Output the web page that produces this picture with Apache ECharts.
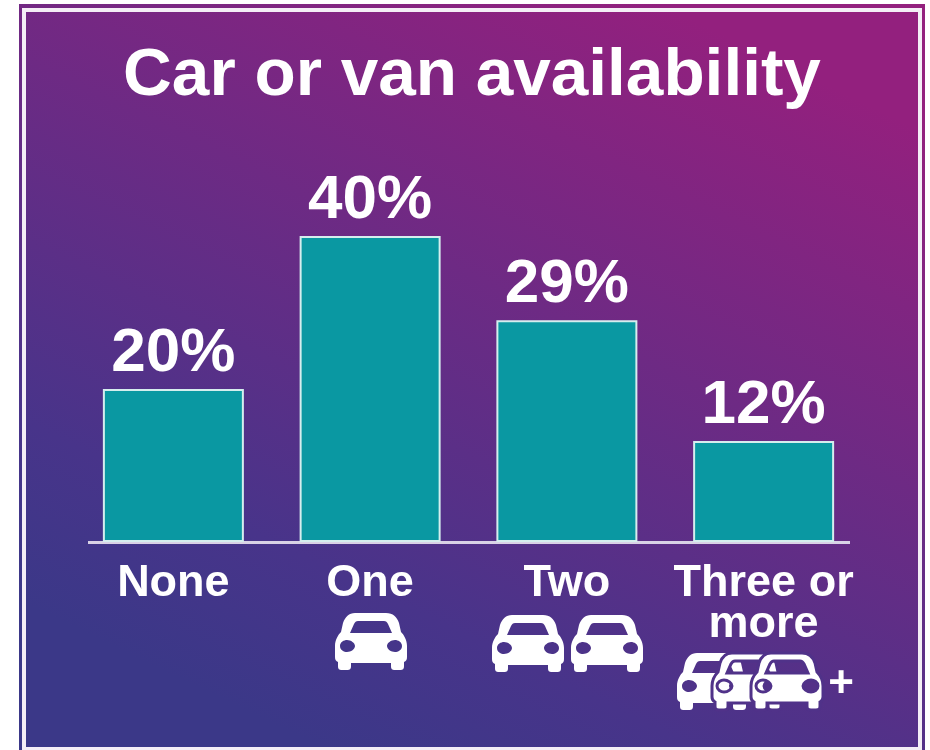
<!DOCTYPE html>
<html>
<head>
<meta charset="utf-8">
<style>
  html, body { margin: 0; padding: 0; background: #fff; }
  #chart { width: 930px; height: 750px; }
</style>
<script src="https://cdn.jsdelivr.net/npm/echarts@6/dist/echarts.min.js"></script>
</head>
<body>
<div id="chart"></div>
<script>
var titleText = 'Car or van availability'
var categories = ['None', 'One', 'Two', 'Three or\nmore']
// bar heights as drawn in the picture (last bar is drawn taller than its 12% label)
var barValues = [20, 40, 29, 13.2]
var barLabels = ['20%', '40%', '29%', '12%']

var FONT = '"Liberation Sans", Arial, sans-serif'
var CAR = 'M20 0 L51 0 C58 0 62 4 64 10 L66 19 C69 22 72 27 72 33 L72 44 C72 47 71 48 69 49 L69 53 C69 56 68 57 65 57 L60 57 C57 57 56 56 56 53 L56 50 L16 50 L16 53 C16 56 15 57 12 57 L7 57 C4 57 3 56 3 53 L3 49 C1 48 0 47 0 44 L0 33 C0 27 3 22 6 19 L8 10 C10 4 14 0 20 0 Z' +
  ' M23 8 C21 8 20 9 19 11 L15 20 L57 20 L53 11 C52 9 51 8 49 8 Z' +
  ' M5 33 C5 37 9 39 12 39 C16 39 20 36 20 33 C20 30 16 27 12 27 C9 27 5 29 5 33 Z' +
  ' M52 33 C52 36 56 39 60 39 C63 39 67 37 67 33 C67 29 63 27 60 27 C56 27 52 30 52 33 Z'

echarts.graphic.registerShape('carIcon', echarts.graphic.extendPath(CAR, {}))

function bg() {
  return new echarts.graphic.LinearGradient(0.33, 1, 0.73, 0, [
    { offset: 0, color: '#3b3888' },
    { offset: 0.2, color: '#48348a' },
    { offset: 1, color: '#93207e' }
  ])
}

function car(x, y, outlined) {
  return {
    type: 'carIcon',
    x: x,
    y: y,
    style: { fill: '#fff', stroke: outlined ? '#503289' : null, lineWidth: outlined ? 3 : 0 }
  }
}

var chart = echarts.init(document.getElementById('chart'))
chart.setOption({
  animation: false,
  backgroundColor: '#fff',
  title: {
    text: titleText,
    left: 467,
    top: 37,
    textAlign: 'center',
    textStyle: { color: '#fff', fontFamily: FONT, fontWeight: 'bold', fontSize: 67.5 }
  },
  graphic: [
    { type: 'rect', shape: { x: 19, y: 4, width: 906, height: 746 }, style: { fill: bg() } },
    { type: 'rect', shape: { x: 22, y: 8, width: 900, height: 742 }, style: { fill: '#f4eef6' } },
    { type: 'rect', shape: { x: 26, y: 12, width: 892, height: 735 }, style: { fill: bg() } },
    { type: 'rect', shape: { x: 88, y: 541, width: 762, height: 3 }, style: { fill: '#d9d2e6' } },
    car(335, 613), car(492, 615), car(571, 615),
    car(677, 653), car(712, 653, true), car(751, 653, true),
    {
      type: 'text',
      style: { x: 841, y: 685, text: '+', align: 'center', verticalAlign: 'middle', fill: '#fff', font: 'bold 44px ' + FONT }
    }
  ],
  grid: { left: 75, right: 68, top: 236, bottom: 208 },
  xAxis: {
    type: 'category',
    data: categories,
    axisLine: { show: false },
    axisTick: { show: false },
    axisLabel: {
      interval: 0,
      margin: 21,
      color: '#fff',
      fontFamily: FONT,
      fontWeight: 'bold',
      fontSize: 45,
      lineHeight: 41
    }
  },
  yAxis: { type: 'value', min: 0, max: 40, show: false },
  series: [{
    type: 'bar',
    data: barValues,
    barWidth: 141,
    itemStyle: { color: '#0a98a2', borderColor: '#d5eeee', borderWidth: 2 },
    label: {
      show: true,
      position: 'top',
      distance: 4,
      color: '#fff',
      fontFamily: FONT,
      fontWeight: 'bold',
      fontSize: 62,
      formatter: function (p) { return barLabels[p.dataIndex] }
    }
  }]
})
</script>
</body>
</html>
